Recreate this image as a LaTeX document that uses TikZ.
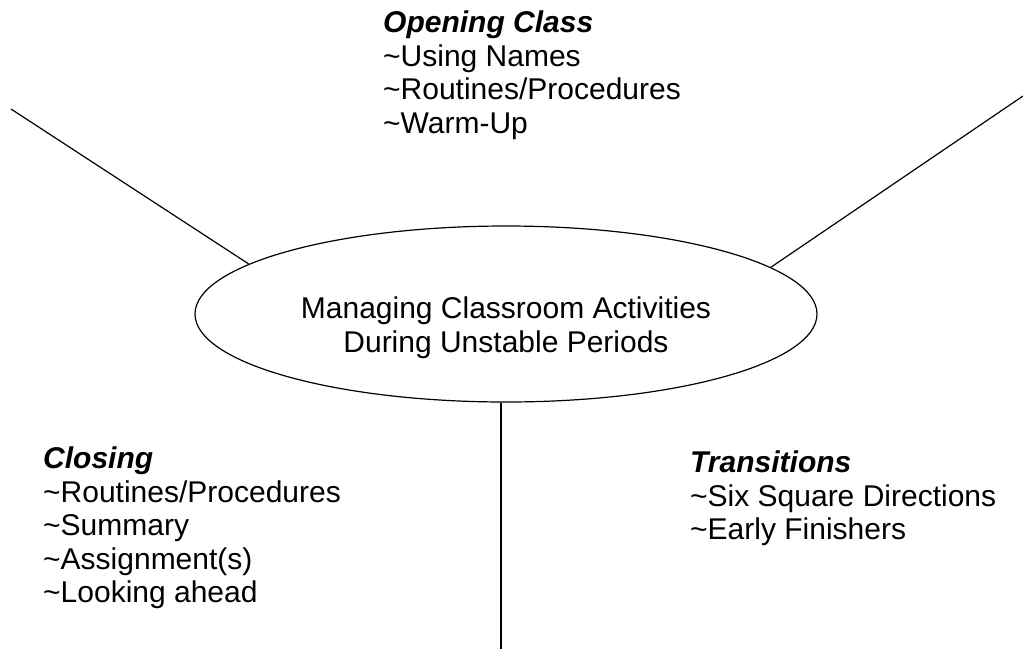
\documentclass[tikz,border=0pt]{standalone}
\usepackage{fontspec}
\setmainfont{Liberation Sans}
\usetikzlibrary{shapes.geometric}
\begin{document}
\begin{tikzpicture}[x=1pt,y=-1pt,
  txt/.style={inner sep=0pt, align=left, font=\fontsize{30}{33.5}\selectfont},
  hub/.style={draw, ellipse, line width=1.2pt, inner sep=0pt,
              minimum width=622pt, minimum height=176pt},
  spoke/.style={draw, line width=1.2pt}]
  \useasboundingbox (0,0) rectangle (1023,649);

  % central topic
  \node[hub] (hub) at (506,314) {};
  \node[txt, align=center, anchor=north] (title) at (506,297)
    {Managing Classroom Activities\\During Unstable Periods};

  % free ends of the spokes
  \coordinate (ul) at (11,109);
  \coordinate (ur) at (1023,96);
  \coordinate (dn) at (501,649);

  \draw[spoke] (ul) -- (hub.169.5);
  \draw[spoke] (ur) -- (hub.10.7);
  \draw[spoke] (dn |- hub.south) -- (dn);

  % branch texts
  \node[txt, anchor=north west] (opening) at (383,11)
    {\textbf{\textit{Opening Class}}\\\textasciitilde Using Names\\\textasciitilde Routines/Procedures\\\textasciitilde Warm-Up};
  \node[txt, anchor=north west] (closing) at (43,447)
    {\textbf{\textit{Closing}}\\\textasciitilde Routines/Procedures\\\textasciitilde Summary\\\textasciitilde Assignment(s)\\\textasciitilde Looking ahead};
  \node[txt, anchor=north west] (transitions) at (690,451)
    {\textbf{\textit{Transitions}}\\\textasciitilde Six Square Directions\\\textasciitilde Early Finishers};
\end{tikzpicture}
\end{document}
